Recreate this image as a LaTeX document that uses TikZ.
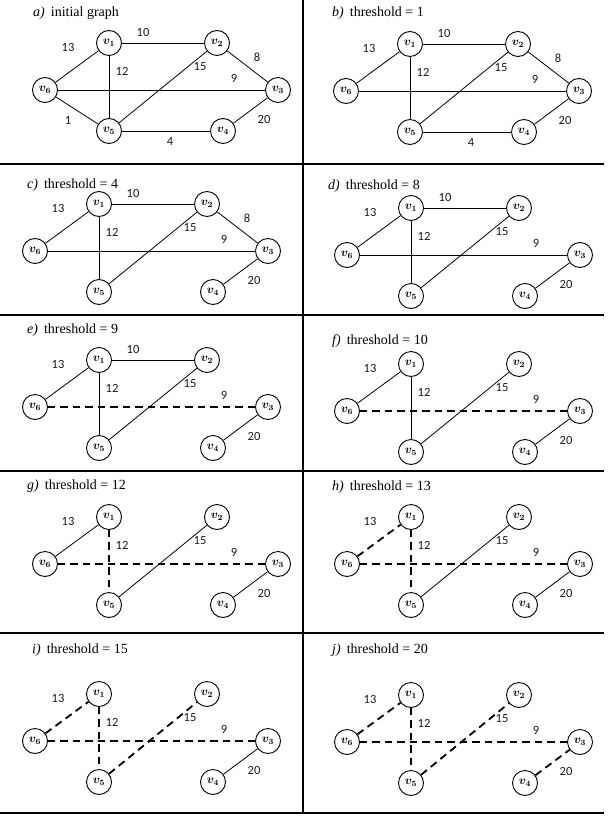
\documentclass[tikz,border=0pt]{standalone}
\usepackage{fontspec}
\setmainfont{Liberation Serif}
\newfontfamily\weightfont{Carlito}
\usepackage{bm}
\usetikzlibrary{positioning,calc}
\tikzstyle{vertex} = [circle, draw, line width=0.9pt, minimum size=25pt, inner sep=0pt, font=\fontsize{12}{12}\selectfont]
\tikzstyle{kept} = [line width=0.8pt]
\tikzstyle{cut} = [line width=1.8pt, dash pattern=on 7.5pt off 5pt]
\tikzstyle{weight} = [inner sep=0pt, font=\weightfont\fontsize{12.5}{12.5}\selectfont, text=black!90]
\tikzstyle{paneltitle} = [anchor=base west, inner sep=0pt, font=\fontsize{14}{16}\selectfont]
\tikzstyle{gridline} = [line width=1.3pt]
% where each weight sits next to its edge
\tikzstyle{lbl13} = [xshift=-9pt, yshift=19pt]
\tikzstyle{lbl10} = [xshift=-20pt, yshift=11pt]
\tikzstyle{lbl12} = [xshift=13pt, yshift=16pt]
\tikzstyle{lbl15} = [xshift=37pt, yshift=20pt]
\tikzstyle{lbl8} = [xshift=9.5pt, yshift=9.5pt]
\tikzstyle{lbl9} = [xshift=72.5pt, yshift=11.5pt]
\tikzstyle{lbl1} = [xshift=-9pt, yshift=-10pt]
\tikzstyle{lbl4} = [xshift=4pt, yshift=-10pt]
\tikzstyle{lbl20} = [xshift=13.5pt, yshift=-8.5pt]
% #1 tag, #2 v1 position, #3 title position, #4 title, #5 edges
\newcommand{\graphpanel}[5]{%
  \node (#1title) [paneltitle] at (#3) {\textit{#1)}\hspace{6pt}#4};
  \node (#1v1) [vertex] at (#2) {$\bm{v}_{\bm{1}}$};
  \node (#1v2) [vertex, right of=#1v1, node distance=108pt] {$\bm{v}_{\bm{2}}$};
  \node (#1v5) [vertex, below of=#1v1, node distance=88pt] {$\bm{v}_{\bm{5}}$};
  \node (#1v4) [vertex, right of=#1v5, node distance=114pt] {$\bm{v}_{\bm{4}}$};
  \node (#1v3) [vertex] at ($(#1v1)+(169,47)$) {$\bm{v}_{\bm{3}}$};
  \node (#1v6) [vertex] at ($(#1v1)+(-64,47)$) {$\bm{v}_{\bm{6}}$};
  \foreach \src/\dst/\wt/\sty in {#5}
    \draw[\sty] (#1\src) -- node[weight, lbl\wt] {\wt} (#1\dst);
}
\begin{document}
\begin{tikzpicture}[x=1pt, y=-1pt]
\useasboundingbox (0,0) rectangle (609,816);
% table rules
\draw[gridline] (303,0) -- (303,813);
\foreach \y in {164,315,471,633,813}
  \draw[gridline] (0,\y) -- (604,\y);

% Panels
\graphpanel{a}{109,43}{33,17}{initial graph}{v6/v1/13/kept, v1/v2/10/kept, v1/v5/12/kept, v5/v2/15/kept, v2/v3/8/kept, v6/v3/9/kept, v6/v5/1/kept, v5/v4/4/kept, v4/v3/20/kept}
\graphpanel{b}{410,44}{332,17}{threshold = 1}{v6/v1/13/kept, v1/v2/10/kept, v1/v5/12/kept, v5/v2/15/kept, v2/v3/8/kept, v6/v3/9/kept, v5/v4/4/kept, v4/v3/20/kept}
\graphpanel{c}{99,204}{27,188}{threshold = 4}{v6/v1/13/kept, v1/v2/10/kept, v1/v5/12/kept, v5/v2/15/kept, v2/v3/8/kept, v6/v3/9/kept, v4/v3/20/kept}
\graphpanel{d}{411,208}{328,189}{threshold = 8}{v6/v1/13/kept, v1/v2/10/kept, v1/v5/12/kept, v5/v2/15/kept, v6/v3/9/kept, v4/v3/20/kept}
\graphpanel{e}{99,360}{27,333}{threshold = 9}{v6/v1/13/kept, v1/v2/10/kept, v1/v5/12/kept, v5/v2/15/kept, v6/v3/9/cut, v4/v3/20/kept}
\graphpanel{f}{411,364}{332,344}{threshold = 10}{v6/v1/13/kept, v1/v5/12/kept, v5/v2/15/kept, v6/v3/9/cut, v4/v3/20/kept}
\graphpanel{g}{109,517}{27,489}{threshold = 12}{v6/v1/13/kept, v1/v5/12/cut, v5/v2/15/kept, v6/v3/9/cut, v4/v3/20/kept}
\graphpanel{h}{411,517}{332,490}{threshold = 13}{v6/v1/13/cut, v1/v5/12/cut, v5/v2/15/kept, v6/v3/9/cut, v4/v3/20/kept}
\graphpanel{i}{99,694}{32,653}{threshold = 15}{v6/v1/13/cut, v1/v5/12/cut, v5/v2/15/cut, v6/v3/9/cut, v4/v3/20/kept}
\graphpanel{j}{411,695}{332,653}{threshold = 20}{v6/v1/13/cut, v1/v5/12/cut, v5/v2/15/cut, v6/v3/9/cut, v4/v3/20/cut}
\end{tikzpicture}
\end{document}
